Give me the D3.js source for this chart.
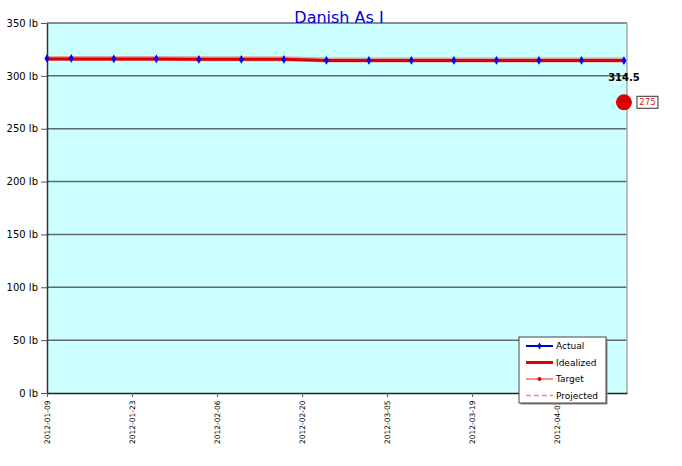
<!DOCTYPE html>
<html><head><meta charset="utf-8">
<script src="https://cdn.jsdelivr.net/npm/d3@7"></script>
<style>body{margin:0;background:#fff}svg{display:block}</style>
</head><body>
<svg id="c" width="682" height="466"></svg>
<script>
const dates = ["2012-01-09","2012-01-13","2012-01-20","2012-01-27","2012-02-03","2012-02-10","2012-02-17","2012-02-24","2012-03-02","2012-03-09","2012-03-16","2012-03-23","2012-03-30","2012-04-06","2012-04-13"];
const actual = [316.5,316.5,316,316,315.5,315.5,315.5,314.7,314.6,314.6,314.6,314.6,314.6,314.6,314.5];
const idealized = [316,316,315.9,315.9,315.8,315.8,315.7,314.6,314.6,314.6,314.6,314.6,314.6,314.6,314.5];
const targetDate = "2012-04-13";
const targetValue = 275;
const lastLabel = "314.5";
const yTicks = [0,50,100,150,200,250,300,350];
const xTickDates = ["2012-01-09","2012-01-23","2012-02-06","2012-02-20","2012-03-05","2012-03-19","2012-04-02"];
const legendItems = ["Actual","Idealized","Target","Projected"];
const title = "Danish As I";

const parse = d3.timeParse("%Y-%m-%d");
const fmt = d3.timeFormat("%Y-%m-%d");
const svg = d3.select("#c");
const L=47,R=627,T=23,B=393;
const x = d3.scaleTime().domain([parse("2012-01-09"), d3.timeHour.offset(parse("2012-04-13"),12)]).range([L,R]);
const y = d3.scaleLinear().domain([0,350]).range([B,T]);
const font = "DejaVu Sans, Verdana, sans-serif";

svg.append("rect").attr("x",L).attr("y",T).attr("width",R-L).attr("height",B-T).attr("fill","#ccffff");
// grid
svg.append("g").selectAll("line").data(yTicks.filter(v=>v>0)).join("line")
  .attr("x1",L).attr("x2",R).attr("y1",d=>y(d)).attr("y2",d=>y(d))
  .attr("stroke","#5f6b6b").attr("stroke-width",1.5);
// right border
svg.append("line").attr("x1",R).attr("x2",R).attr("y1",T).attr("y2",B).attr("stroke","#aaaaaa").attr("stroke-width",1.5);

// y axis
const ya = svg.append("g").attr("transform",`translate(${L},0)`)
  .call(d3.axisLeft(y).tickValues(yTicks).tickFormat(d=>d+" lb").tickSize(6).tickSizeOuter(0).tickPadding(3));
ya.select(".domain").attr("stroke","#333").attr("stroke-width",1.5);
ya.selectAll(".tick line").attr("stroke","#555");
ya.selectAll("text").attr("font-family",font).attr("font-size",10).attr("fill","#000");

// x axis
const xa = svg.append("g").attr("transform",`translate(0,${B})`)
  .call(d3.axisBottom(x).tickValues(xTickDates.map(parse)).tickFormat(fmt).tickSize(4).tickSizeOuter(0));
xa.select(".domain").attr("stroke","#222").attr("stroke-width",1.5);
xa.selectAll(".tick line").attr("stroke","#555");
xa.selectAll("text").attr("font-family",font).attr("font-size",7.5).attr("fill","#000")
  .attr("text-anchor","end").attr("dx","-0.6em").attr("dy","0.3em").attr("y",0).attr("x",-3)
  .attr("transform","rotate(-90)");

const pts = dates.map((d,i)=>({d:parse(d),a:actual[i],id:idealized[i]}));
// actual line
svg.append("path").datum(pts).attr("fill","none").attr("stroke","#0000cc").attr("stroke-width",1.5)
  .attr("d",d3.line().x(p=>x(p.d)).y(p=>y(p.a)));
// idealized
svg.append("path").datum(pts).attr("fill","none").attr("stroke","#e87878").attr("stroke-width",5).attr("opacity",0.7)
  .attr("d",d3.line().x(p=>x(p.d)).y(p=>y(p.id)-0.5));
svg.append("path").datum(pts).attr("fill","none").attr("stroke","#dd0000").attr("stroke-width",3)
  .attr("d",d3.line().x(p=>x(p.d)).y(p=>y(p.id)));
// markers
svg.append("g").selectAll("path").data(pts).join("path")
  .attr("transform",p=>`translate(${x(p.d)},${y(p.a)})`)
  .attr("d",d3.symbol(d3.symbolDiamond,22)).attr("fill","#0000ee");

// last label
const last = pts[pts.length-1];
svg.append("text").attr("x",x(last.d)).attr("y",y(last.a)+20).attr("text-anchor","middle")
  .attr("font-family",font).attr("font-size",10).attr("font-weight","bold").attr("fill","#000").text(lastLabel);

// target
const tx = x(parse(targetDate)), ty = y(targetValue);
svg.append("circle").attr("cx",tx).attr("cy",ty).attr("r",8).attr("fill","#dd0000");
svg.append("rect").attr("x",tx+13).attr("y",ty-6).attr("width",21).attr("height",12).attr("fill","#fff").attr("stroke","#333").attr("stroke-width",1);
svg.append("text").attr("x",tx+23.5).attr("y",ty+3).attr("text-anchor","middle").attr("font-family",font).attr("font-size",8.5).attr("fill","#dd2222").text(targetValue);

// title
svg.append("text").attr("x",339).attr("y",23).attr("text-anchor","middle").attr("font-family",font).attr("font-size",16).attr("fill","#0000dd").text(title);

// legend
const lg = svg.append("g").attr("transform","translate(519,337)");
lg.append("rect").attr("x",1.5).attr("y",1.5).attr("width",87).attr("height",66).attr("fill","#888");
lg.append("rect").attr("width",87).attr("height",66).attr("fill","#fff").attr("stroke","#444").attr("stroke-width",1);
legendItems.forEach((name,i)=>{
  const yy = 9+i*16.5;
  const g = lg.append("g");
  if(i===0){
    g.append("line").attr("x1",7).attr("x2",34).attr("y1",yy).attr("y2",yy).attr("stroke","#0000cc").attr("stroke-width",2);
    g.append("path").attr("transform",`translate(20.5,${yy})`).attr("d",d3.symbol(d3.symbolDiamond,14)).attr("fill","#0000cc");
  } else if(i===1){
    g.append("line").attr("x1",7).attr("x2",34).attr("y1",yy).attr("y2",yy).attr("stroke","#dd0000").attr("stroke-width",3);
  } else if(i===2){
    g.append("line").attr("x1",7).attr("x2",34).attr("y1",yy).attr("y2",yy).attr("stroke","#ee2222").attr("stroke-width",1);
    g.append("circle").attr("cx",20.5).attr("cy",yy).attr("r",2).attr("fill","#dd0000");
  } else {
    g.append("line").attr("x1",7).attr("x2",34).attr("y1",yy).attr("y2",yy).attr("stroke","#ff77bb").attr("stroke-width",1.5).attr("stroke-dasharray","5,3");
  }
  g.append("text").attr("x",37).attr("y",yy+3).attr("font-family",font).attr("font-size",9).attr("fill","#000").text(name);
});
</script>
</body></html>
